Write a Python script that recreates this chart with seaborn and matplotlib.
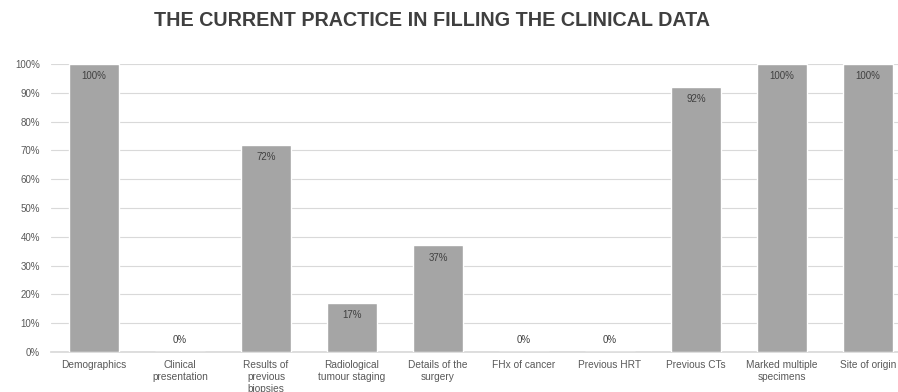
import matplotlib
matplotlib.use("Agg")
import matplotlib.pyplot as plt
import seaborn as sns
import pandas as pd

categories = ["Demographics", "Clinical\npresentation", "Results of\nprevious\nbiopsies",
              "Radiological\ntumour staging", "Details of the\nsurgery", "FHx of cancer",
              "Previous HRT", "Previous CTs", "Marked multiple\nspecimens", "Site of origin"]
values = [100, 0, 72, 17, 37, 0, 0, 92, 100, 100]
yticks = [0, 10, 20, 30, 40, 50, 60, 70, 80, 90, 100]
title = "THE CURRENT PRACTICE IN FILLING THE CLINICAL DATA"

sns.set_theme(style="white")
plt.rcParams['font.family'] = ['Liberation Sans', 'DejaVu Sans']

df = pd.DataFrame({"cat": categories, "val": values})
W, H = 898, 392
fig = plt.figure(figsize=(W / 100, H / 100), dpi=100)
left, right, top, bottom = 51, 911, 64, 352
ax = fig.add_axes([left / W, 1 - bottom / H, (right - left) / W, (bottom - top) / H])

sns.barplot(data=df, x="cat", y="val", color="#a5a5a5", saturation=1, width=0.58, ax=ax, zorder=3)

ax.set_ylim(0, 100)
ax.set_yticks(yticks)
ax.set_yticklabels([f"{t}%" for t in yticks], fontsize=7, color="#595959")
ax.yaxis.grid(True, color="#d9d9d9", linewidth=0.8, zorder=0)
ax.set_axisbelow(True)
ax.tick_params(axis="x", labelsize=7.3, colors="#595959", length=0, pad=6)
ax.tick_params(axis="y", length=0, pad=8)
for lbl in ax.get_xticklabels():
    lbl.set_linespacing(1.2)
ax.set_xlabel("")
ax.set_ylabel("")
for s in ["top", "right", "left"]:
    ax.spines[s].set_visible(False)
ax.spines["bottom"].set_color("#d9d9d9")
ax.set_xlim(-0.5, len(categories) - 0.5)

for i, v in enumerate(values):
    ypos = v - 4.2 if v > 5 else v + 4.0
    ax.text(i, ypos, f"{v}%", ha="center", va="center",
            fontsize=7, color="#404040", zorder=4)

fig.text(0.481, 1 - 21 / H, title, ha="center", va="center", fontsize=14.2,
         fontweight="bold", color="#3f3f3f")

fig.savefig("out.png", dpi=100)
